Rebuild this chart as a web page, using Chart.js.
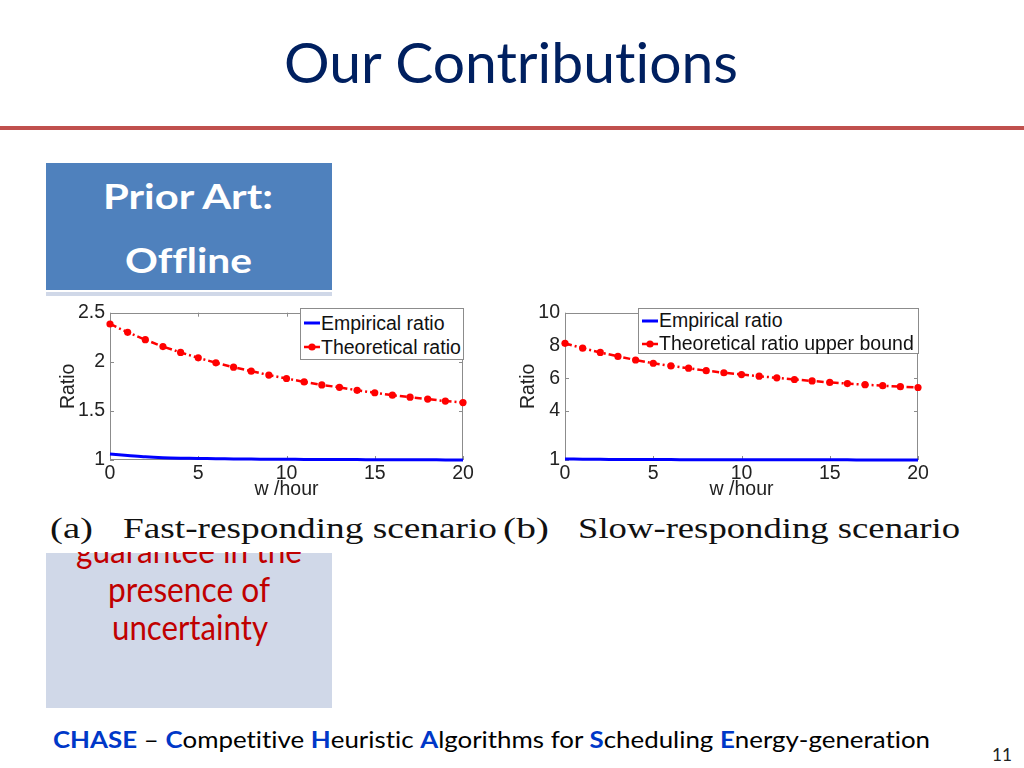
<!DOCTYPE html>
<html>
<head>
<meta charset="utf-8">
<script src="https://cdn.jsdelivr.net/npm/chart.js@4.4.1/dist/chart.umd.min.js"></script>
<style>
  html,body{margin:0;padding:0;background:#fff;}
  #slide{position:relative;width:1024px;height:768px;overflow:hidden;background:#fff;
         font-variant-ligatures:none;font-feature-settings:"liga" 0,"clig" 0;}
  .abs{position:absolute;}
  .legend{position:absolute;background:#fff;border:1px solid #8c8c8c;box-sizing:border-box;
          font-family:"Liberation Sans",Arial,sans-serif;font-size:19.5px;color:#111;}
  .legend .row{display:flex;align-items:center;white-space:nowrap;}
</style>
</head>
<body>
<div id="slide">
  <div class="abs" style="left:0;top:126px;width:1024px;height:4px;background:#C0504D;"></div>
  <div class="abs" style="left:46px;top:163px;width:286px;height:127px;background:#4F81BD;"></div>
  <div class="abs" style="left:46px;top:292px;width:286px;height:416px;background:#D0D8E8;"></div>
  <div id="figure" class="abs" style="left:40px;top:296px;width:940px;height:257px;background:#fff;"></div>
  <div id="c1wrap" class="abs" style="left:50px;top:296px;width:430px;height:215px;">
    <canvas id="c1" width="430" height="215"></canvas>
  </div>
  <div id="c2wrap" class="abs" style="left:510px;top:296px;width:430px;height:215px;">
    <canvas id="c2" width="430" height="215"></canvas>
  </div>
  <div id="clip1" class="abs" style="left:40px;top:552px;width:300px;height:30px;overflow:hidden;"></div>
</div>
<script>
// ---------- data ----------
const wHours = [0,1,2,3,4,5,6,7,8,9,10,11,12,13,14,15,16,17,18,19,20];
const xTickValues = [0,5,10,15,20];

const fastEmpirical   = [1.06,1.047,1.033,1.024,1.019,1.016,1.013,1.011,1.009,1.008,1.007,1.006,1.005,1.004,1.004,1.003,1.003,1.002,1.002,1.001,1.001];
const fastTheoretical = [2.385,2.30,2.225,2.155,2.095,2.04,1.99,1.945,1.905,1.865,1.83,1.795,1.765,1.74,1.71,1.685,1.66,1.64,1.62,1.60,1.585];
const fastYTicks = [1,1.5,2,2.5];

const slowEmpirical   = [1.06,1.05,1.04,1.035,1.03,1.027,1.024,1.021,1.019,1.017,1.015,1.013,1.012,1.011,1.01,1.009,1.008,1.007,1.006,1.005,1.005];
const slowTheoretical = [8.13,7.83,7.57,7.33,7.11,6.91,6.75,6.61,6.46,6.33,6.22,6.12,6.02,5.92,5.83,5.74,5.67,5.60,5.54,5.48,5.43];
const slowYTicks = [1,4,6,8,10];

const fastLabels = ['Empirical ratio','Theoretical ratio'];
const slowLabels = ['Empirical ratio','Theoretical ratio upper bound'];

// ---------- text helper ----------
const slide = document.getElementById('slide');
function placeText(parent, o){
  const d = document.createElement('div');
  d.style.cssText = `position:absolute;left:0;top:0;white-space:pre;font-family:${o.family};font-size:${o.size}px;font-weight:${o.weight||400};color:${o.color||'#000'};line-height:${o.size*1.2}px;transform-origin:0 0;`;
  d.innerHTML = o.html + '<span style="display:inline-block;width:0;height:0;vertical-align:baseline"></span>';
  parent.appendChild(d);
  const mk = d.lastChild;
  const base = mk.offsetTop;
  const w = d.getBoundingClientRect().width;
  const pr = parent.getBoundingClientRect(), sr = slide.getBoundingClientRect();
  const offX = pr.left - sr.left, offY = pr.top - sr.top;
  let sx = 1;
  if (o.width) sx = o.width / w;
  let left = o.left;
  if (o.center !== undefined) left = o.center - (w*sx)/2;
  d.style.left = (left - offX) + 'px';
  d.style.top = (o.baseline - base - offY) + 'px';
  d.style.transform = `scaleX(${sx})`;
  return d;
}
const SANS = 'Lato, "Open Sans", sans-serif';
const SERIF = '"Liberation Serif", "DejaVu Serif", serif';
placeText(slide,{html:'Our Contributions',family:SANS,size:57,color:'#002060',left:284,width:454,baseline:83});
placeText(slide,{html:'Prior Art:',family:SANS,size:35,weight:700,color:'#fff',left:103,width:170,baseline:209});
placeText(slide,{html:'Offline',family:SANS,size:35,weight:700,color:'#fff',left:125,width:127,baseline:273});
placeText(document.getElementById('clip1'),{html:'guarantee in the',family:SANS,size:34,color:'#C00000',left:76,width:226,baseline:563});
placeText(slide,{html:'presence of',family:SANS,size:34,color:'#C00000',left:108,width:162,baseline:602});
placeText(slide,{html:'uncertainty',family:SANS,size:34,color:'#C00000',left:112,width:156,baseline:640});
const B = 'color:#0038C8;font-weight:700';
placeText(slide,{html:`<span style="${B}">CHASE</span> – <span style="${B}">C</span>ompetitive <span style="${B}">H</span>euristic <span style="${B}">A</span>lgorithms for <span style="${B}">S</span>cheduling <span style="${B}">E</span>nergy-generation`,family:SANS,size:23,color:'#000',left:53,width:877,baseline:748});
placeText(slide,{html:'11',family:SANS,size:18,color:'#222',left:992,width:20,baseline:761});
placeText(slide,{html:'(a)',family:SERIF,size:29,color:'#111',left:50,width:43,baseline:538});
placeText(slide,{html:'Fast-responding scenario',family:SERIF,size:29,color:'#111',left:123,width:374,baseline:538});
placeText(slide,{html:'(b)',family:SERIF,size:29,color:'#111',left:503,width:46,baseline:538});
placeText(slide,{html:'Slow-responding scenario',family:SERIF,size:29,color:'#111',left:578,width:382,baseline:538});

// ---------- charts ----------
const AX_FONT = {family:'"Liberation Sans", Arial, sans-serif', size:19.5};
const BOX = '#8c8c8c';
const axesBox = {
  id:'axesBox',
  beforeDatasetsDraw(chart){
    const {ctx, chartArea:a, scales:{x, y}} = chart;
    ctx.save();
    ctx.strokeStyle = BOX; ctx.lineWidth = 1;
    ctx.strokeRect(Math.round(a.left)+0.5, Math.round(a.top)+0.5, Math.round(a.width)-1, Math.round(a.height)-1);
    const tl = 4;
    ctx.beginPath();
    x.ticks.forEach(t=>{
      const px = Math.round(x.getPixelForValue(t.value))+0.5;
      ctx.moveTo(px, a.bottom); ctx.lineTo(px, a.bottom-tl);
      ctx.moveTo(px, a.top); ctx.lineTo(px, a.top+tl);
    });
    y.ticks.forEach(t=>{
      const py = Math.round(y.getPixelForValue(t.value))+0.5;
      ctx.moveTo(a.left, py); ctx.lineTo(a.left+tl, py);
      ctx.moveTo(a.right, py); ctx.lineTo(a.right-tl, py);
    });
    ctx.stroke();
    ctx.restore();
  }
};

function makeChart(id, empirical, theoretical, yTicks, labels, yAxisWidth, padRight){
  const ctx = document.getElementById(id).getContext('2d');
  return new Chart(ctx, {
    type:'line',
    data:{datasets:[
      {label:labels[0], data:wHours.map((w,i)=>({x:w,y:empirical[i]})), borderColor:'#0000FF', backgroundColor:'#0000FF',
       borderWidth:3, pointRadius:0, tension:0.3, clip:false},
      {label:labels[1], data:wHours.map((w,i)=>({x:w,y:theoretical[i]})), borderColor:'#FF0000', backgroundColor:'#FF0000',
       borderWidth:2.5, borderDash:[7,3,2,3], pointRadius:3.6, pointBorderWidth:0, pointBackgroundColor:'#FF0000', tension:0, clip:false}
    ]},
    options:{
      responsive:false, animation:false, devicePixelRatio:1,
      layout:{padding:{left:0,right:padRight,top:12,bottom:0}},
      plugins:{legend:{display:false}, tooltip:{enabled:false}},
      scales:{
        x:{type:'linear', min:0, max:20,
           afterBuildTicks(s){ s.ticks = xTickValues.map(v=>({value:v})); },
           ticks:{font:AX_FONT, color:'#222', padding:2, maxRotation:0, autoSkip:false, callback:v=>String(v)},
           grid:{display:false, drawTicks:false}, border:{display:false},
           title:{display:true, text:'w /hour', font:AX_FONT, color:'#222', padding:{top:0,bottom:9.6}},
           afterFit(s){ s.height = 51; }},
        y:{type:'linear', min:yTicks[0], max:yTicks[yTicks.length-1],
           afterBuildTicks(s){ s.ticks = yTicks.map(v=>({value:v})); },
           ticks:{font:AX_FONT, color:'#222', padding:5, autoSkip:false, callback:v=>String(v)},
           grid:{display:false, drawTicks:false}, border:{display:false},
           title:{display:true, text:'Ratio', font:AX_FONT, color:'#222', padding:{top:7,bottom:0}},
           afterFit(s){ s.width = yAxisWidth; }}
      }
    },
    plugins:[axesBox]
  });
}

const chart1 = makeChart('c1', fastEmpirical, fastTheoretical, fastYTicks, fastLabels, 60, 17);
const chart2 = makeChart('c2', slowEmpirical, slowTheoretical, slowYTicks, slowLabels, 55, 22);

function sampleSVG(ds){
  const dashed = ds.borderDash && ds.borderDash.length;
  let s = `<svg width="16" height="12" style="flex:none;margin-right:1px">`;
  s += `<line x1="0" y1="6" x2="16" y2="6" stroke="${ds.borderColor}" stroke-width="${ds.borderWidth}" ${dashed?'stroke-dasharray="5,2,2,2"':''}/>`;
  if (ds.pointRadius) s += `<circle cx="8" cy="6" r="${ds.pointRadius}" fill="${ds.pointBackgroundColor}"/>`;
  return s + '</svg>';
}
function makeLegend(chart, left, top, width, height, rowH, padTop, sampleLeft){
  const lg = document.createElement('div');
  lg.className = 'legend';
  lg.style.cssText += `left:${left}px;top:${top}px;width:${width}px;height:${height}px;padding-top:${padTop}px;padding-left:${sampleLeft}px;`;
  chart.data.datasets.forEach(ds=>{
    const r = document.createElement('div');
    r.className = 'row'; r.style.height = rowH + 'px';
    r.innerHTML = sampleSVG(ds) + `<span>${ds.label}</span>`;
    lg.appendChild(r);
  });
  slide.appendChild(lg);
}
makeLegend(chart1, 300, 308, 164, 52, 24, 2, 3);
makeLegend(chart2, 638, 308, 281, 46, 23, 0, 3);
</script>
</body>
</html>
